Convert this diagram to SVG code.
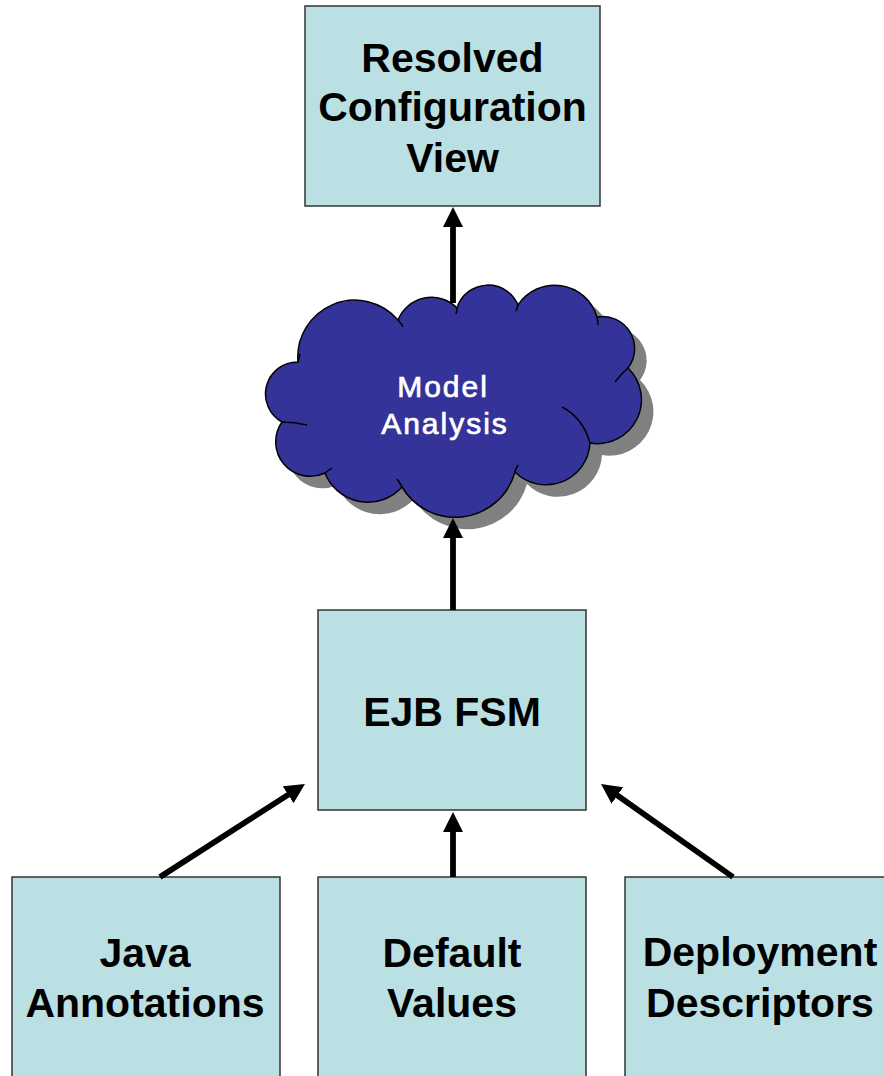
<svg xmlns="http://www.w3.org/2000/svg" width="884" height="1076" viewBox="0 0 884 1076">
<style>
.box{fill:#BBE0E3;stroke:#333333;stroke-width:1.5}
.lbl{font-family:"Liberation Sans",Arial,sans-serif;font-weight:bold;font-size:41px;fill:#000;text-anchor:middle}
.cl{font-family:"Liberation Sans",Arial,sans-serif;font-size:30px;fill:#fff;stroke:#fff;stroke-width:0.7;text-anchor:middle;letter-spacing:2px}
.conn{stroke:#000;stroke-width:5.8;fill:none;marker-end:url(#ah)}
.crease{fill:none;stroke:#000;stroke-width:1.5}
</style>
<defs>
<marker id="ah" viewBox="0 0 20 20" refX="4" refY="10" markerWidth="20" markerHeight="20" markerUnits="userSpaceOnUse" orient="auto">
<path d="M0,0 L20,10 L0,20 Z" fill="#000"/>
</marker>
<path id="cloudShape" d="M298,362 A57,57 0 0 1 398,320 A36,36 0 0 1 457,308 A32.5,32.5 0 0 1 518,305 A44,44 0 0 1 597,317 A32,32 0 0 1 628,368 A44,44 0 0 1 590,443 A44,44 0 0 1 515,472 A62,62 0 0 1 402,487 A46,46 0 0 1 325,473 A34.5,34.5 0 0 1 282,422 A32,32 0 0 1 298,362 Z"/>
</defs>
<rect width="884" height="1076" fill="#fff"/>
<g id="node-resolved">
<rect class="box" x="305" y="6" width="295" height="200"/>
<text class="lbl" x="452.5" y="72">Resolved</text>
<text class="lbl" x="452.5" y="121">Configuration</text>
<text class="lbl" x="452.5" y="172">View</text>
</g>
<g id="node-model-analysis">
<use href="#cloudShape" fill="#808080" transform="translate(12,12)"/>
<use href="#cloudShape" fill="#333399" stroke="#000" stroke-width="1.5"/>
<path class="crease" d="M398,320 Q401,323 403,327"/>
<path class="crease" d="M457,308 Q457,311 456,314"/>
<path class="crease" d="M518,305 Q517,308 516,311"/>
<path class="crease" d="M597,317 Q598,321 598,325"/>
<path class="crease" d="M628,368 Q621,374 615,382"/>
<path class="crease" d="M590,443 Q583,418 562,407"/>
<path class="crease" d="M515,472 Q516,468 518,465"/>
<path class="crease" d="M402,487 Q400,483 397,479"/>
<path class="crease" d="M325,473 Q329,470 332,468"/>
<path class="crease" d="M282,422 Q295,422 307,425"/>
<path class="crease" d="M298,362 Q299,358 300,354"/>
<text class="cl" x="443" y="397">Model</text>
<text class="cl" x="445" y="434">Analysis</text>
</g>
<g id="node-ejb-fsm">
<rect class="box" x="318" y="610" width="268" height="200"/>
<text class="lbl" x="452" y="726">EJB FSM</text>
</g>
<g id="node-java-annotations">
<rect class="box" x="12" y="877" width="268" height="220"/>
<text class="lbl" x="145" y="967">Java</text>
<text class="lbl" x="145" y="1017">Annotations</text>
</g>
<g id="node-default-values">
<rect class="box" x="318" y="877" width="268" height="220"/>
<text class="lbl" x="452" y="967">Default</text>
<text class="lbl" x="452" y="1017">Values</text>
</g>
<g id="node-deployment-descriptors">
<rect class="box" x="625" y="877" width="270" height="220"/>
<text class="lbl" x="760" y="966">Deployment</text>
<text class="lbl" x="760" y="1017">Descriptors</text>
</g>
<g id="connectors">
<line class="conn" x1="453" y1="303" x2="453" y2="223"/>
<line class="conn" x1="453" y1="610" x2="453" y2="534"/>
<line class="conn" x1="453" y1="877" x2="453" y2="828"/>
<line class="conn" x1="160" y1="877" x2="291.5" y2="792.6"/>
<line class="conn" x1="733" y1="877" x2="614.1" y2="793.2"/>
</g>
</svg>
